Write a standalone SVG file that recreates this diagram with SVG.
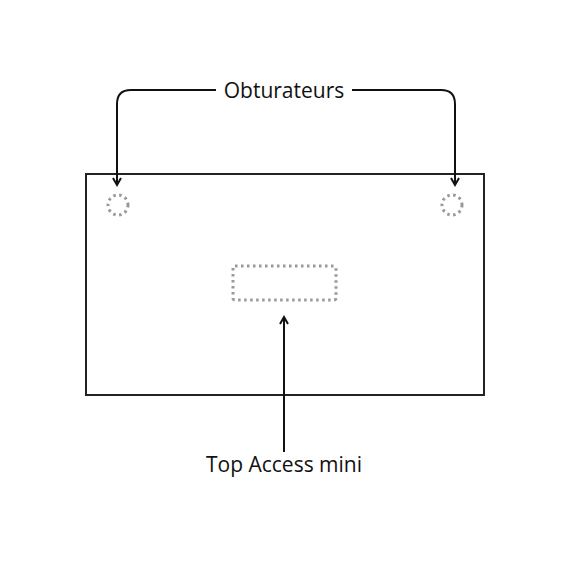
<svg xmlns="http://www.w3.org/2000/svg" width="570" height="570" viewBox="0 0 570 570">
<style>
.lbl{font-family:"Open Sans","Noto Sans",sans-serif;font-size:21px;fill:#111;text-anchor:middle}
.conn{fill:none;stroke:#111;stroke-width:2}
.dot{fill:none;stroke:#999;stroke-width:3;stroke-dasharray:2.5 3.5}
</style>
<defs>
<marker id="ah" viewBox="0 0 10 10" refX="8" refY="5" markerWidth="5" markerHeight="5" orient="auto" markerUnits="strokeWidth">
<path d="M1,1 L8,5 L1,9" fill="none" stroke="#111" stroke-width="2"/>
</marker>
</defs>
<rect width="570" height="570" fill="#fff"/>
<g id="panel"><rect x="86" y="174" width="398" height="221" fill="none" stroke="#222" stroke-width="2"/></g>
<g id="obturateur-left"><circle cx="118" cy="205" r="10" class="dot"/></g>
<g id="obturateur-right"><circle cx="452" cy="205" r="10" class="dot"/></g>
<g id="top-access"><rect x="233" y="266" width="103" height="34" rx="2" class="dot"/></g>
<g id="label-obturateurs"><text class="lbl" x="284" y="98">Obturateurs</text></g>
<g id="label-top-access"><text class="lbl" x="284" y="472">Top Access mini</text></g>
<g id="connectors">
<path class="conn" d="M216,90 H131 Q117,90 117,104 V185" marker-end="url(#ah)"/>
<path class="conn" d="M352,90 H441 Q455,90 455,104 V185" marker-end="url(#ah)"/>
<path class="conn" d="M284,452 V317" marker-end="url(#ah)"/>
</g>
</svg>
